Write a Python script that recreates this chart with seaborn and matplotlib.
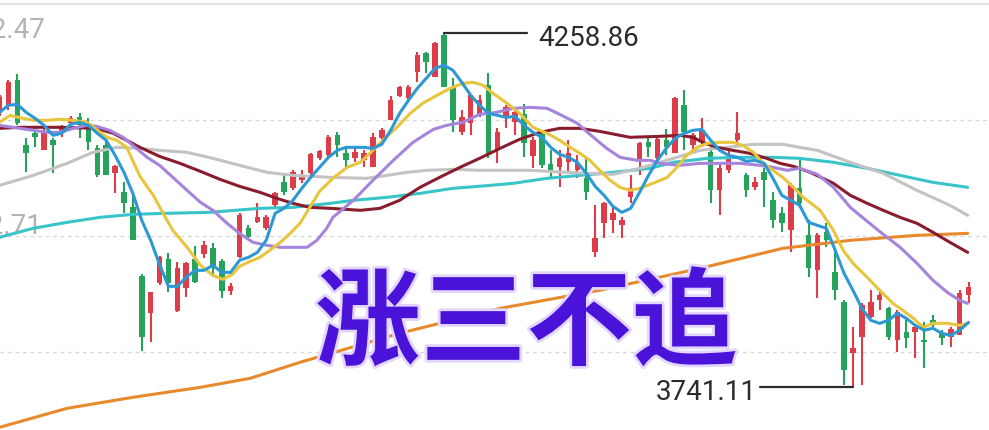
import numpy as np
import pandas as pd
import seaborn as sns
import matplotlib.pyplot as plt
import matplotlib.patheffects as pe

# daily candles (index 0..109)
days = np.arange(110)
opens = [4141.8, 4153.6, 4190.1, 4095.0, 4112.6, 4087.7, 4102.4, 4112.6, 4127.2, 4136.0,
         4127.2, 4090.6, 4095.0, 4054.1, 4026.3, 4004.3, 3903.4, 3849.3, 3893.2, 3928.3,
         3852.2, 3885.9, 3928.3, 3935.6, 3944.4, 3925.4, 3881.5, 3931.2, 3973.7, 3982.4,
         3973.7, 4007.3, 4040.9, 4032.1, 4043.8, 4054.1, 4076.0, 4080.4, 4109.7, 4083.3,
         4076.0, 4073.1, 4062.9, 4105.3, 4131.6, 4166.7, 4163.8, 4201.8, 4229.6, 4194.5,
         4255.9, 4179.9, 4114.1, 4127.2, 4138.9, 4182.8, 4087.7, 4134.5, 4128.7, 4140.4,
         4078.9, 4111.1, 4067.2, 4062.9, 4070.2, 4058.5, 4046.8, 3938.5, 3981.0, 3985.4,
         3978.0, 4019.0, 4073.1, 4099.4, 4076.0, 4102.4, 4083.3, 4153.6, 4095.0, 4099.4,
         4084.8, 4029.2, 4058.5, 4102.4, 4051.1, 4033.6, 4055.5, 4014.6, 3995.6, 3970.7,
         4032.1, 3963.4, 3912.2, 3967.8, 3909.3, 3865.4, 3790.8, 3814.2, 3843.4, 3868.3,
         3856.6, 3809.8, 3821.5, 3821.5, 3809.8, 3839.1, 3820.1, 3814.2, 3817.1, 3875.7]
closes = [4165.3, 4187.2, 4127.2, 4083.3, 4106.8, 4114.1, 4095.0, 4121.4, 4134.5, 4124.3,
          4099.4, 4051.1, 4051.1, 4064.3, 4010.2, 3956.1, 3814.2, 3880.1, 3931.2, 3893.2,
          3915.1, 3922.5, 3894.7, 3948.8, 3915.1, 3881.5, 3888.8, 3992.6, 3960.5, 3989.7,
          3989.7, 4024.8, 4026.3, 4055.5, 4051.1, 4081.9, 4086.3, 4106.8, 4095.0, 4073.1,
          4084.8, 4083.3, 4106.8, 4117.0, 4160.9, 4179.9, 4179.9, 4226.7, 4216.4, 4244.2,
          4179.9, 4131.6, 4136.0, 4168.2, 4160.9, 4080.4, 4114.1, 4150.6, 4143.3, 4098.0,
          4102.4, 4065.8, 4058.5, 4076.0, 4083.3, 4068.7, 4026.3, 3959.0, 4010.2, 3995.6,
          3985.4, 4032.1, 4098.0, 4092.1, 4103.8, 4092.1, 4163.8, 4114.1, 4109.7, 4117.0,
          4029.2, 4061.4, 4077.5, 4112.6, 4029.2, 4040.9, 4043.8, 3985.4, 3981.0, 4036.5,
          4010.2, 3915.1, 3963.4, 3956.1, 3883.0, 3766.0, 3798.1, 3861.0, 3865.4, 3875.7,
          3814.2, 3850.8, 3812.8, 3828.8, 3806.9, 3831.8, 3812.8, 3825.9, 3878.6, 3887.4]
highs = [4168.2, 4190.1, 4198.9, 4105.3, 4114.1, 4121.4, 4105.3, 4124.3, 4137.5, 4141.8,
         4134.5, 4095.0, 4105.3, 4065.8, 4040.9, 4021.9, 3906.4, 3880.1, 3932.7, 3937.1,
         3923.9, 3923.9, 3947.3, 3954.6, 3951.7, 3928.3, 3893.2, 3995.6, 3978.0, 4010.2,
         3992.6, 4026.3, 4051.1, 4058.5, 4058.5, 4083.3, 4087.7, 4109.7, 4114.1, 4090.6,
         4090.6, 4087.7, 4112.6, 4119.9, 4166.7, 4181.3, 4182.8, 4231.1, 4231.1, 4245.7,
         4258.86, 4193.1, 4146.2, 4168.2, 4168.2, 4200.4, 4119.9, 4153.6, 4146.2, 4155.0,
         4106.8, 4114.1, 4087.7, 4087.7, 4102.4, 4080.4, 4077.5, 4007.3, 4011.7, 4004.3,
         3989.7, 4051.1, 4099.4, 4106.8, 4105.3, 4118.4, 4165.3, 4175.5, 4112.6, 4134.5,
         4092.1, 4065.8, 4087.7, 4143.3, 4054.1, 4048.2, 4061.4, 4026.3, 4004.3, 4039.5,
         4073.1, 3985.4, 3966.3, 3981.0, 3941.5, 3868.3, 3828.8, 3863.9, 3883.0, 3880.1,
         3858.1, 3853.7, 3843.4, 3831.8, 3836.1, 3846.4, 3824.5, 3828.8, 3883.0, 3894.7]
lows = [4137.5, 4146.2, 4124.3, 4055.5, 4092.1, 4087.7, 4054.1, 4106.8, 4124.3, 4105.3,
        4087.7, 4048.2, 4051.1, 4024.8, 3995.6, 3956.1, 3793.7, 3806.9, 3890.3, 3880.1,
        3850.8, 3872.7, 3893.2, 3929.8, 3902.0, 3871.3, 3875.7, 3929.8, 3956.1, 3981.0,
        3970.7, 4004.3, 4021.9, 4029.2, 4039.5, 4051.1, 4073.1, 4077.5, 4077.5, 4062.9,
        4070.2, 4062.9, 4062.9, 4102.4, 4131.6, 4165.3, 4156.5, 4187.2, 4200.4, 4194.5,
        4179.9, 4114.1, 4109.7, 4109.7, 4136.0, 4076.0, 4068.7, 4119.9, 4109.7, 4077.5,
        4061.4, 4061.4, 4048.2, 4033.6, 4055.5, 4046.8, 4014.6, 3931.2, 3959.0, 3966.3,
        3959.0, 4010.2, 4051.1, 4077.5, 4073.1, 4080.4, 4083.3, 4087.7, 4084.8, 4092.1,
        4010.2, 3992.6, 4054.1, 4092.1, 4019.0, 4029.2, 4004.3, 3973.7, 3967.8, 3938.5,
        4002.9, 3902.0, 3871.3, 3945.9, 3868.3, 3744.1, 3741.11, 3744.1, 3842.0, 3853.7,
        3809.8, 3792.3, 3798.1, 3783.5, 3768.9, 3828.8, 3802.5, 3799.6, 3817.1, 3863.9]

# moving averages
ma5 = [4143.3, 4153.6, 4155.0, 4143.3, 4134.5, 4124.3, 4109.7, 4112.6, 4125.8, 4128.7,
       4124.3, 4112.6, 4102.4, 4080.4, 4055.5, 4024.8, 3985.4, 3956.1, 3921.0, 3888.8,
       3888.8, 3902.0, 3912.2, 3912.2, 3919.6, 3909.3, 3909.3, 3926.9, 3931.2, 3938.5,
       3956.1, 3995.6, 4002.9, 4014.6, 4032.1, 4048.2, 4062.9, 4077.5, 4087.7, 4092.1,
       4092.1, 4092.1, 4090.6, 4096.5, 4117.0, 4141.8, 4160.9, 4178.4, 4193.1, 4207.7,
       4212.1, 4204.8, 4187.2, 4168.2, 4153.6, 4141.8, 4138.9, 4136.0, 4137.5, 4124.3,
       4114.1, 4106.8, 4092.1, 4081.9, 4077.5, 4070.2, 4054.1, 4035.1, 4021.9, 4005.8,
       3997.0, 4002.9, 4026.3, 4051.1, 4073.1, 4090.6, 4105.3, 4112.6, 4117.0, 4118.4,
       4102.4, 4087.7, 4080.4, 4077.5, 4071.7, 4073.1, 4068.7, 4046.8, 4021.9, 4014.6,
       4007.3, 3982.4, 3978.0, 3973.7, 3941.5, 3907.8, 3883.0, 3856.6, 3839.1, 3834.7,
       3839.1, 3849.3, 3842.0, 3831.8, 3824.5, 3827.4, 3820.1, 3817.1, 3824.5, 3836.1]

ma10_day = [0, 1.2, 2.1, 3.8, 5.3, 6.8, 8.3, 9.8, 10.9, 12.1, 13.2, 14.3, 15.8, 17.3, 18.4,
            19.5, 21.1, 22.6, 24.0, 25.1, 26.2, 27.0, 28.2, 29.3, 30.4, 31.6, 32.7, 33.8,
            34.9, 36.0, 37.5, 39.1, 40.6, 42.0, 43.1, 44.7, 46.2, 47.6, 49.2, 50.7, 52.1,
            53.3, 54.4, 55.5, 57.1, 58.5, 60.0, 61.6, 63.0, 64.2, 65.3, 66.4, 67.5, 68.7,
            69.8, 70.9, 72.0, 73.5, 75.1, 76.2, 77.3, 78.5, 79.6, 81.0, 82.5, 83.6, 84.8,
            85.9, 87.0, 88.1, 89.3, 90.4, 92.3, 93.8, 94.9, 96.0, 97.6, 99.0, 100.5, 101.6,
            102.8, 103.9, 105.0, 106.6, 108.0, 108.9]
ma10 = [4128.7, 4138.9, 4136.0, 4131.6, 4131.6, 4133.1, 4131.6, 4128.7, 4118.4, 4106.8,
        4102.4, 4092.1, 4049.7, 4021.9, 3995.6, 3970.7, 3945.9, 3919.6, 3904.9, 3899.1,
        3906.4, 3918.1, 3925.4, 3931.2, 3941.5, 3953.2, 3966.3, 3981.0, 4004.3, 4027.8,
        4046.8, 4062.9, 4070.2, 4087.7, 4102.4, 4121.4, 4141.8, 4156.5, 4168.2, 4178.4,
        4185.7, 4187.2, 4182.8, 4171.1, 4156.5, 4141.8, 4121.4, 4112.6, 4102.4, 4092.1,
        4083.3, 4073.1, 4058.5, 4043.8, 4033.6, 4029.2, 4032.1, 4039.5, 4048.2, 4062.9,
        4080.4, 4092.1, 4098.0, 4099.4, 4099.4, 4095.0, 4084.8, 4068.7, 4058.5, 4048.2,
        4033.6, 4019.0, 4000.0, 3970.7, 3941.5, 3922.5, 3902.0, 3883.0, 3863.9, 3853.7,
        3842.0, 3828.8, 3834.7, 3834.7, 3831.8, 3834.7]

ma20_day = [0, 2.3, 5.3, 6.8, 8.3, 9.8, 10.9, 12.4, 13.9, 15.0, 16.6, 18.0, 19.5, 21.1,
            22.6, 24.0, 25.6, 27.0, 28.5, 30.1, 31.6, 33.0, 34.6, 35.7, 36.8, 37.5, 39.8,
            42.0, 44.3, 46.5, 48.8, 50.3, 52.1, 54.0, 55.9, 57.8, 59.7, 61.6, 63.0, 65.0,
            66.8, 68.3, 69.8, 71.7, 73.2, 74.3, 76.5, 78.8, 81.0, 83.3, 85.5, 87.0, 88.6,
            90.0, 92.0, 93.8, 95.7, 97.6, 99.4, 101.3, 103.2, 105.0, 106.6, 108.0, 108.9]
ma20 = [4124.3, 4119.9, 4114.1, 4114.1, 4119.9, 4124.3, 4122.8, 4117.0, 4106.8, 4095.0,
        4077.5, 4065.8, 4048.2, 4029.2, 4011.7, 4000.0, 3981.0, 3966.3, 3953.2, 3948.8,
        3945.9, 3945.9, 3945.9, 3956.1, 3973.7, 3989.7, 4014.6, 4043.8, 4073.1, 4099.4,
        4118.4, 4124.3, 4128.7, 4140.4, 4143.3, 4149.2, 4150.6, 4149.2, 4140.4, 4127.2,
        4106.8, 4090.6, 4077.5, 4073.1, 4073.1, 4068.7, 4065.8, 4068.7, 4068.7, 4068.7,
        4065.8, 4062.9, 4058.5, 4061.4, 4052.6, 4033.6, 4004.3, 3983.9, 3964.9, 3945.9,
        3922.5, 3897.6, 3880.1, 3868.3, 3863.9]

ma30_day = [0, 2.3, 6.8, 10.9, 12.8, 14.3, 15.8, 18.0, 20.3, 22.6, 24.8, 27.0, 29.3, 31.2,
            33.0, 34.9, 37.2, 40.6, 42.8, 45.0, 47.3, 49.5, 51.8, 54.0, 56.3, 58.5, 60.8,
            63.0, 65.3, 67.5, 70.9, 74.3, 76.5, 78.0, 79.1, 80.7, 82.5, 84.4, 86.3, 87.8,
            89.3, 91.2, 93.8, 95.7, 97.6, 99.4, 101.3, 103.2, 105.0, 106.9, 108.9]
ma30 = [4119.9, 4121.4, 4121.4, 4119.9, 4112.6, 4102.4, 4092.1, 4078.9, 4068.7, 4057.0,
        4045.3, 4035.1, 4026.3, 4017.5, 4010.2, 4004.3, 4002.9, 4000.0, 4002.9, 4014.6,
        4033.6, 4048.2, 4062.9, 4076.0, 4090.6, 4103.8, 4114.1, 4119.9, 4119.9, 4115.5,
        4106.8, 4108.2, 4109.7, 4106.8, 4099.4, 4092.1, 4087.7, 4083.3, 4076.0, 4068.7,
        4064.3, 4055.5, 4039.5, 4021.9, 4010.2, 4000.0, 3989.7, 3981.0, 3967.8, 3953.2,
        3938.5]

ma60_day = [0, 3.8, 7.6, 10.5, 13.2, 15.8, 18.0, 21.1, 24.0, 27.0, 30.1, 33.0, 37.2, 41.3,
            43.6, 45.8, 48.1, 51.0, 54.0, 59.7, 63.8, 69.0, 72.0, 75.8, 78.8, 81.8, 84.8,
            88.1, 90.0, 92.0, 95.7, 99.4, 103.2, 106.9, 108.9]
ma60 = [4036.5, 4051.1, 4068.7, 4084.8, 4092.1, 4090.6, 4087.7, 4084.8, 4076.0, 4065.8,
        4055.5, 4051.1, 4048.2, 4046.8, 4051.1, 4055.5, 4058.5, 4059.9, 4058.5, 4058.5,
        4055.5, 4052.6, 4061.4, 4076.0, 4087.7, 4092.1, 4096.5, 4096.5, 4092.1, 4087.7,
        4070.2, 4054.1, 4029.2, 4007.3, 3992.6]

ma120_day = [0, 3.8, 7.6, 11.3, 15.0, 18.8, 23.7, 29.3, 33.0, 37.2, 39.8, 43.6, 47.3, 51.0,
             55.2, 57.8, 61.6, 65.3, 69.0, 73.2, 75.8, 79.6, 83.3, 87.0, 90.0, 93.8, 97.6,
             101.3, 105.0, 108.9]
ma120 = [3960.5, 3973.7, 3982.4, 3989.7, 3994.1, 3995.6, 3997.1, 4002.9, 4004.3, 4010.2,
         4014.6, 4019.0, 4024.8, 4032.1, 4036.5, 4039.5, 4046.8, 4051.1, 4055.5, 4061.4,
         4070.2, 4076.0, 4077.5, 4077.5, 4076.0, 4070.2, 4061.4, 4051.1, 4040.9, 4033.6]

ma250_day = [0, 7.6, 15.0, 22.6, 28.2, 33.8, 45.0, 56.3, 67.5, 78.8, 88.1, 95.7, 103.2, 108.9]
ma250 = [3682.6, 3710.4, 3726.5, 3741.1, 3754.3, 3777.7, 3820.1, 3856.6, 3883.0, 3915.1,
         3944.4, 3956.1, 3963.4, 3966.3]

grid_levels = [4132.59, 3962.71, 3792.83]
top_level = 4302.47
peak_day, peak_price = 50, 4258.86
trough_day, trough_price = 96, 3741.11
title = "涨三不追"

sns.set_theme(style="white")
plt.rcParams["font.family"] = ["Roboto", "Noto Sans CJK SC", "DejaVu Sans"]

fig = plt.figure(figsize=(9.89, 4.30), dpi=100)
ax = fig.add_axes([0, 0, 1, 1])
ax.set_xlim(0.056, 111.3)
ax.set_ylim(3678.7, 4307.6)
ax.set_axis_off()

for lv in grid_levels:
    ax.axhline(lv, color="#d6d6d6", lw=0.9, ls=(0, (3, 3)), zorder=1)
ax.axhline(top_level, color="#e3e3e3", lw=1.6, zorder=1)

# candles
candles = pd.DataFrame({"day": days, "open": opens, "close": closes,
                        "high": highs, "low": lows})
up = candles["close"] >= candles["open"]
colors = np.where(up, "#dc3d48", "#26a35a")
ax.vlines(candles["day"], candles["low"], candles["high"], colors=colors, lw=1.5, zorder=2)
body_bottom = candles[["open", "close"]].min(axis=1)
body_h = (candles["close"] - candles["open"]).abs().clip(lower=2.5)
ax.bar(candles["day"], body_h, bottom=body_bottom, width=0.62, color=colors,
       linewidth=0, zorder=3)

# moving average lines
ma_lines = pd.concat([
    pd.DataFrame({"day": ma250_day, "price": ma250, "ma": "MA250"}),
    pd.DataFrame({"day": ma120_day, "price": ma120, "ma": "MA120"}),
    pd.DataFrame({"day": ma60_day, "price": ma60, "ma": "MA60"}),
    pd.DataFrame({"day": ma30_day, "price": ma30, "ma": "MA30"}),
    pd.DataFrame({"day": ma20_day, "price": ma20, "ma": "MA20"}),
    pd.DataFrame({"day": ma10_day, "price": ma10, "ma": "MA10"}),
    pd.DataFrame({"day": days, "price": ma5, "ma": "MA5"}),
], ignore_index=True)
palette = {"MA250": "#e8892c", "MA120": "#38c4c8", "MA60": "#c3c3c3", "MA30": "#8a1d2d",
           "MA20": "#a684dc", "MA10": "#e8c53c", "MA5": "#2c98d4"}
sns.lineplot(data=ma_lines, x="day", y="price", hue="ma", palette=palette,
             hue_order=list(palette), estimator=None, linewidth=2.2, legend=False,
             ax=ax, zorder=4)

# axis labels drawn inside the chart (cut at the left edge as in the app)
ax.annotate(f"{top_level:.2f}", xy=(0.046, top_level), xycoords=("axes fraction", "data"),
            xytext=(0, -25), textcoords="offset points", ha="right", va="baseline",
            fontsize=20, color="#b3b3b3", zorder=1)
ax.annotate(f"{grid_levels[1]:.2f}", xy=(0.043, grid_levels[1]),
            xycoords=("axes fraction", "data"), xytext=(0, 1), textcoords="offset points",
            ha="right", va="baseline", fontsize=20, color="#b3b3b3", zorder=1)

# high / low markers
ax.plot([peak_day, 59.3], [peak_price, peak_price], color="#2b2b2b", lw=1.6, zorder=5)
ax.annotate(f"{peak_price:.2f}", xy=(59.3, peak_price), xytext=(8, -3.5),
            textcoords="offset points", ha="left", va="center", fontsize=20,
            color="#2b2b2b", zorder=5)
ax.plot([85.5, trough_day], [trough_price, trough_price], color="#2b2b2b", lw=1.6, zorder=5)
ax.annotate(f"{trough_price:.2f}", xy=(85.5, trough_price), xytext=(-2, -3.5),
            textcoords="offset points", ha="right", va="center", fontsize=20,
            color="#2b2b2b", zorder=5)

ax.text(0.532, 0.243, title, transform=ax.transAxes, ha="center", va="center",
        fontsize=76, fontweight="bold", color="#4b12d9", family="Noto Sans CJK SC",
        zorder=6, path_effects=[pe.withStroke(linewidth=4, foreground="#e2d6ff")])

fig.savefig("out.png", dpi=100, facecolor="white")
